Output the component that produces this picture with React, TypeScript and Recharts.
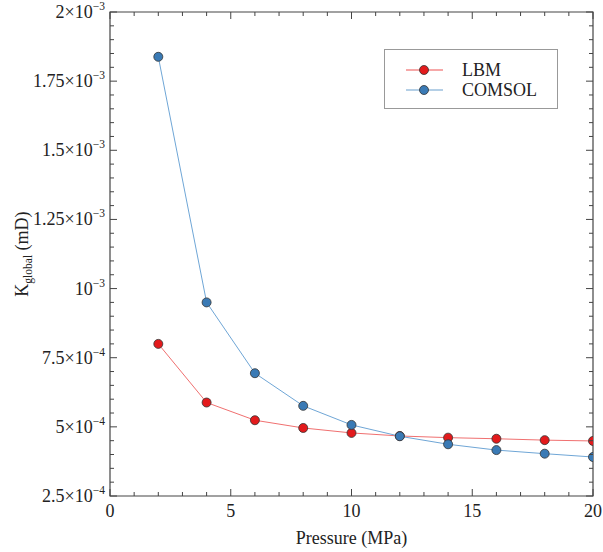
import React from "react";
import {
  LineChart,
  Line,
  XAxis,
  YAxis,
  ReferenceArea,
  Legend,
} from "recharts";

const PRESSURE = [2, 4, 6, 8, 10, 12, 14, 16, 18, 20];
const LBM = [8.0e-4, 5.88e-4, 5.24e-4, 4.96e-4, 4.78e-4, 4.67e-4, 4.61e-4, 4.57e-4, 4.52e-4, 4.49e-4];
const COMSOL = [1.838e-3, 9.5e-4, 6.94e-4, 5.76e-4, 5.07e-4, 4.66e-4, 4.37e-4, 4.16e-4, 4.03e-4, 3.91e-4];
const SERIES_ORDER = ["LBM", "COMSOL"];

// y ticks: minor every 5e-5, labelled every 2.5e-4
const Y_MIN = 2.5e-4;
const Y_MAX = 2e-3;
const Y_STEP = 5e-5;
const Y_MANTISSA = ["2.5", "5", "7.5", "", "1.25", "1.5", "1.75", "2"];
const Y_EXP = ["−4", "−4", "−4", "−3", "−3", "−3", "−3", "−3"];

const X_LABELS = ["0", "5", "10", "15", "20"];

const W = 603;
const H = 552;
const MARGIN = { top: 12, right: 10, bottom: 0, left: 0 };
const PLOT_TOP = MARGIN.top;
const PLOT_RIGHT = W - MARGIN.right;

const RED = "#e31a1c";
const BLUE = "#3a7ab5";
const RED_LINE = "#f07070";
const BLUE_LINE = "#6fa6d6";
const AXIS = "#444";
const FONT = "Liberation Serif";
const FS = 18;

const data = PRESSURE.map((p, i) => ({ p, lbm: LBM[i], comsol: COMSOL[i] }));

const yTicks: number[] = [];
for (let i = 0; i <= Math.round((Y_MAX - Y_MIN) / Y_STEP); i++) yTicks.push(Y_MIN + i * Y_STEP);
const xTicks: number[] = [];
for (let i = 0; i <= 20; i++) xTicks.push(i);

function YTick(props: any) {
  const { x, y, index } = props;
  const major = index % 5 === 0;
  const len = major ? 7 : 4;
  const k = index / 5;
  const m = Y_MANTISSA[k];
  return (
    <g>
      <line x1={x} x2={x + len} y1={y} y2={y} stroke={AXIS} />
      <line x1={PLOT_RIGHT} x2={PLOT_RIGHT - len} y1={y} y2={y} stroke={AXIS} />
      {major && (
        <text x={x - 5} y={y + 6} textAnchor="end" fontFamily={FONT} fontSize={FS} fill="#222">
          {m ? `${m}×10` : "10"}
          <tspan dy={-8} fontSize={11.5}>{Y_EXP[k]}</tspan>
        </text>
      )}
    </g>
  );
}

function XTick(props: any) {
  const { x, y, index } = props;
  const major = index % 5 === 0;
  const len = major ? 7 : 4;
  return (
    <g>
      <line x1={x} x2={x} y1={y} y2={y - len} stroke={AXIS} />
      <line x1={x} x2={x} y1={PLOT_TOP} y2={PLOT_TOP + len} stroke={AXIS} />
      {major && (
        <text x={x} y={y + 21} textAnchor="middle" fontFamily={FONT} fontSize={FS} fill="#222">
          {X_LABELS[index / 5]}
        </text>
      )}
    </g>
  );
}

function XLabel(props: any) {
  const vb = props.viewBox;
  return (
    <text x={vb.x + vb.width / 2} y={vb.y + vb.height - 8} textAnchor="middle" fontFamily={FONT} fontSize={FS} fill="#222">
      Pressure (MPa)
    </text>
  );
}

function YLabel(props: any) {
  const vb = props.viewBox;
  const cx = 28;
  const cy = vb.y + vb.height / 2;
  return (
    <text
      x={cx}
      y={cy}
      transform={`rotate(-90, ${cx}, ${cy})`}
      textAnchor="middle"
      fontFamily={FONT}
      fontSize={FS}
      fill="#222"
    >
      K<tspan dy={4} fontSize={11.5}>global</tspan>
      <tspan dy={-4}> (mD)</tspan>
    </text>
  );
}

function LegendBox(props: any) {
  const items = [...(props.payload || [])].sort(
    (a: any, b: any) => SERIES_ORDER.indexOf(a.value) - SERIES_ORDER.indexOf(b.value)
  );
  return (
    <div
      style={{
        border: "1.5px solid #999",
        boxSizing: "border-box",
        width: 174,
        height: 60,
        padding: "10px 0 0 20px",
        fontFamily: FONT,
        fontSize: 18,
        color: "#222",
      }}
    >
      {items.map((it: any) => {
        const fill = it.dataKey === "lbm" ? RED : BLUE;
        const line = it.dataKey === "lbm" ? "#f6a8a8" : "#b4cfe6";
        return (
          <div key={it.value} style={{ display: "flex", alignItems: "center", height: 20 }}>
            <svg width={40} height={14} style={{ flexShrink: 0 }}>
              <line x1={1} x2={38} y1={7} y2={7} stroke={line} strokeWidth={2} />
              <circle cx={19} cy={7} r={4.5} fill={fill} stroke="#333" strokeWidth={0.8} />
            </svg>
            <span style={{ marginLeft: 17, lineHeight: "20px" }}>{it.value}</span>
          </div>
        );
      })}
    </div>
  );
}

export default function App() {
  return (
    <div style={{ position: "absolute", left: 0, top: 0, background: "#fff" }}>
      <LineChart width={W} height={H} data={data} margin={MARGIN}>
        <ReferenceArea
          x1={0}
          x2={20}
          y1={Y_MIN}
          y2={Y_MAX}
          fill="none"
          fillOpacity={0}
          stroke={AXIS}
          strokeWidth={1.2}
          ifOverflow="extendDomain"
        />
        <XAxis
          dataKey="p"
          type="number"
          domain={[0, 20]}
          ticks={xTicks}
          interval={0}
          tick={<XTick />}
          tickSize={0}
          tickMargin={0}
          tickLine={false}
          axisLine={false}
          height={56}
          allowDataOverflow
          label={<XLabel />}
        />
        <YAxis
          type="number"
          domain={[Y_MIN, Y_MAX]}
          ticks={yTicks}
          interval={0}
          tick={<YTick />}
          tickSize={0}
          tickMargin={0}
          tickLine={false}
          axisLine={false}
          width={110}
          allowDataOverflow
          label={<YLabel />}
        />
        <Legend
          layout="vertical"
          verticalAlign="middle"
          align="center"
          content={<LegendBox />}
          wrapperStyle={{ position: "absolute", left: 384, top: 49, width: 174, height: 60 }}
        />
        <Line
          name="LBM"
          dataKey="lbm"
          stroke={RED_LINE}
          strokeWidth={1}
          dot={{ r: 4.5, fill: RED, stroke: "#333", strokeWidth: 0.8 }}
          activeDot={false}
          isAnimationActive={false}
        />
        <Line
          name="COMSOL"
          dataKey="comsol"
          stroke={BLUE_LINE}
          strokeWidth={1}
          dot={{ r: 4.5, fill: BLUE, stroke: "#333", strokeWidth: 0.8 }}
          activeDot={false}
          isAnimationActive={false}
        />
      </LineChart>
    </div>
  );
}
